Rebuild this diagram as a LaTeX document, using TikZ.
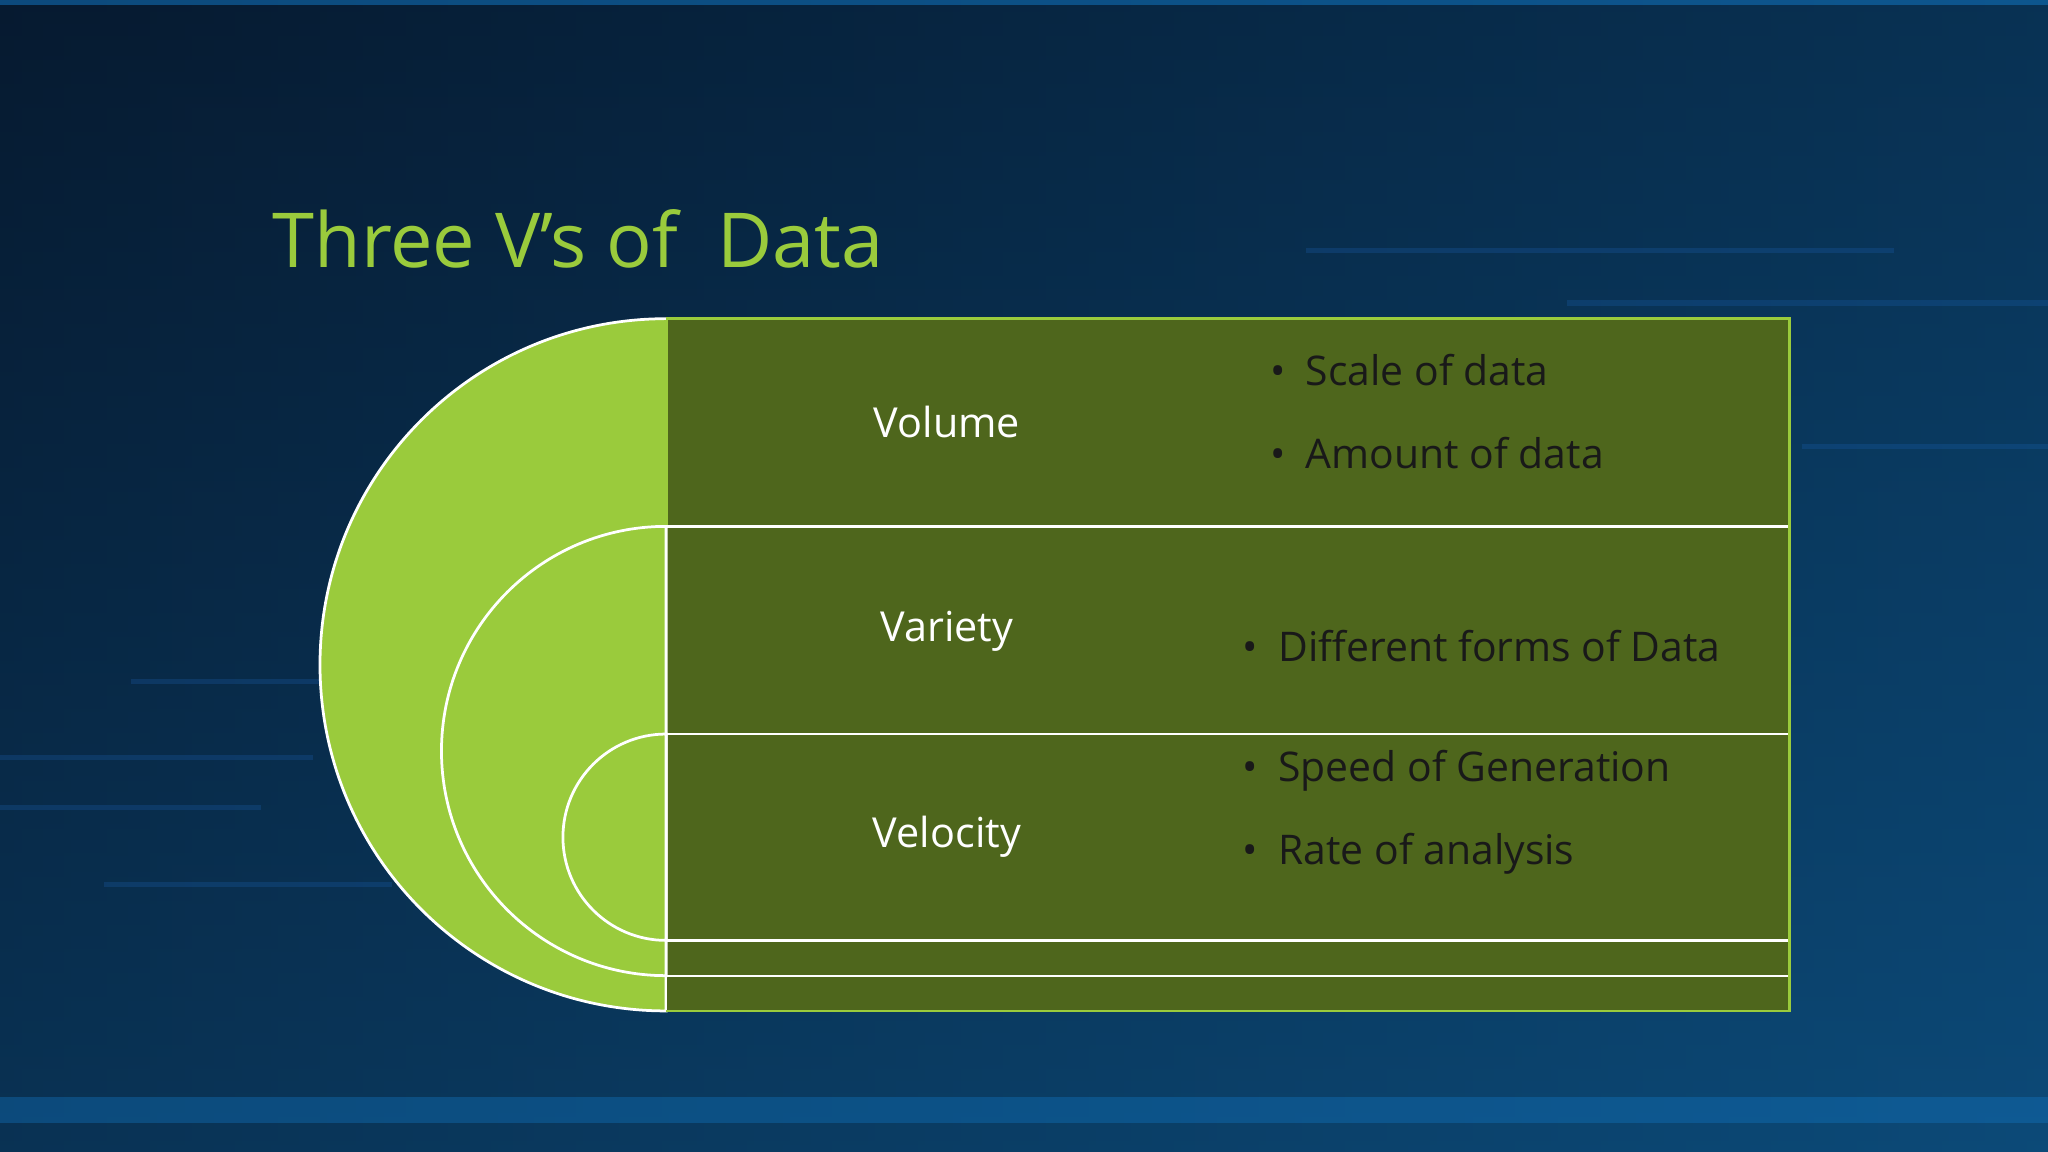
\documentclass[tikz,border=0pt]{standalone}
\usepackage{fontspec}
\setmainfont{Open Sans}
\begin{document}
\begin{tikzpicture}[x=0.01cm,y=-0.01cm,
  lbl/.style={text=white,font=\fontsize{9}{11}\selectfont},
  bul/.style={text=black!90,font=\fontsize{8.9}{11}\selectfont,anchor=west},
  row/.style={fill=olive0,draw=white,line width=0.5pt},
  half/.style={fill=lime0,draw=white,line width=0.6pt}]
\definecolor{lime0}{HTML}{9ACB3C}
\definecolor{olive0}{HTML}{4E661C}
\definecolor{bgA}{HTML}{061A30}
\definecolor{bgB}{HTML}{0C4A78}
\useasboundingbox (0,0) rectangle (1568,882);
\shade[left color=bgA,right color=bgB] (0,0) rectangle (1568,882);
\shade[top color=bgA,bottom color=bgB,opacity=0.5] (0,0) rectangle (1568,882);
\fill[cyan!60!blue,opacity=0.5] (0,0) rectangle (1568,4);
\fill[cyan!60!blue,opacity=0.35] (0,840) rectangle (1568,860);
\foreach \y/\a/\b in {190/1000/1450,230/1200/1568,520/100/260,578/0/240,616/0/200,675/80/300,340/1380/1568}
  \fill[cyan!40!blue,opacity=0.25] (\a,\y) rectangle (\b,\y+4);
\node[anchor=base west,text=lime0,font=\fontsize{16.5}{20}\selectfont,inner sep=0] (title) at (208,205) {Three V’s of\ \ Data};
\draw[half] (510,244) arc (-90:-270:265) -- cycle;
\draw[row] (510,747) rectangle (1370,774);
\draw[row] (510,720) rectangle (1370,747);
\draw[row] (510,562) rectangle (1370,720);
\draw[row] (510,403) rectangle (1370,562);
\draw[row] (510,244) rectangle (1370,403);
\draw[lime0,line width=0.6pt] (510,244) -- (1370,244) -- (1370,774) -- (510,774);
\draw[half] (510,403) arc (-90:-270:172) -- cycle;
\draw[half] (510,562) arc (-90:-270:79) -- cycle;
\draw[lime0,line width=1pt] (510,245) -- (510,402);
\node[lbl] (vol) at (725,323) {Volume};
\node[lbl] (var) at (725,483) {Variety};
\node[lbl] (vel) at (725,641) {Velocity};
\node[bul] (b1) at (960,283) {•\hspace{0.5em}Scale of data};
\node[bul] (b2) at (960,347) {•\hspace{0.5em}Amount of data};
\node[bul] (b3) at (939,495) {•\hspace{0.5em}Different forms of Data};
\node[bul] (b4) at (939,590) {•\hspace{0.5em}Speed of Generation};
\node[bul] (b5) at (939,654) {•\hspace{0.5em}Rate of analysis};
\end{tikzpicture}
\end{document}
